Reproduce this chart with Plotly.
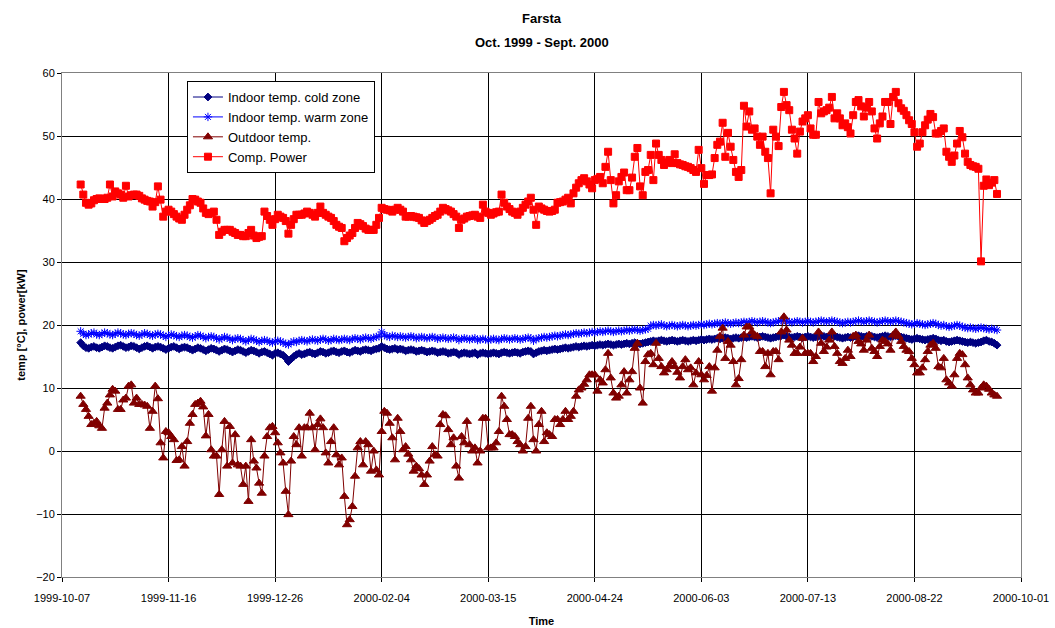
import pandas as pd
import plotly.graph_objects as go

# ---------------- data (daily, first day 1999-10-14) ----------------
start_date = "1999-10-14"

power = [
    42.3, 40.7, 39.4, 39.1, 39.3, 39.8, 40.0, 40.1, 40.0, 40.0,
    40.2, 42.3, 40.4, 41.2, 40.9, 40.7, 40.2, 42.1, 40.4, 40.6,
    40.7, 40.7, 40.5, 40.1, 39.9, 39.7, 39.6, 38.8, 39.5, 42.0,
    39.9, 37.2, 38.0, 38.3, 38.0, 37.6, 37.2, 36.9, 36.7, 37.5,
    38.3, 39.0, 40.0, 39.9, 39.6, 39.4, 38.5, 37.8, 37.6, 37.8,
    38.0, 36.7, 34.3, 34.8, 35.1, 35.1, 35.1, 34.8, 34.6, 34.3,
    34.3, 34.1, 34.1, 34.6, 35.1, 34.2, 33.8, 34.0, 34.1, 38.0,
    37.3, 36.7, 35.9, 36.8, 37.5, 37.2, 37.0, 36.5, 34.5, 35.9,
    36.8, 37.5, 37.5, 37.5, 37.7, 38.0, 37.8, 37.5, 37.2, 37.8,
    38.8, 37.8, 37.5, 37.2, 37.0, 36.5, 35.9, 35.6, 35.4, 33.3,
    33.8, 34.2, 34.6, 35.4, 36.2, 36.0, 35.7, 35.3, 35.1, 35.1,
    35.1, 35.9, 37.0, 38.6, 38.4, 38.3, 38.2, 38.0, 38.3, 38.6,
    38.3, 38.0, 37.2, 37.2, 37.3, 37.2, 37.1, 37.0, 36.6, 36.2,
    36.5, 36.7, 37.0, 37.3, 37.5, 38.0, 38.6, 38.4, 38.2, 38.0,
    37.6, 37.2, 35.4, 36.7, 36.9, 37.2, 37.3, 37.4, 37.5, 37.2,
    37.0, 39.1, 38.0, 37.8, 37.5, 37.7, 37.9, 38.0, 40.7, 39.4,
    38.8, 38.4, 38.0, 37.8, 37.5, 38.0, 38.6, 39.1, 39.6, 40.2,
    38.3, 35.9, 38.8, 38.5, 38.3, 38.1, 38.0, 38.1, 38.3, 39.4,
    39.5, 39.6, 39.9, 40.2, 39.3, 40.9, 41.8, 42.5, 43.0, 43.3,
    42.8, 42.3, 41.7, 43.0, 43.2, 43.5, 42.5, 45.1, 47.5, 43.0,
    39.3, 40.6, 42.8, 43.5, 44.2, 41.4, 41.4, 43.4, 46.7, 48.1,
    42.0, 40.6, 44.3, 44.6, 47.0, 43.0, 48.8, 47.0, 46.2, 45.4,
    45.8, 46.2, 45.7, 47.1, 45.7, 45.5, 45.4, 45.2, 45.1, 44.9,
    44.6, 44.3, 47.8, 44.9, 42.4, 43.8, 43.8, 43.9, 46.5, 48.6,
    49.1, 52.1, 46.7, 50.5, 48.3, 46.2, 44.3, 43.5, 44.6, 54.8,
    51.5, 53.9, 51.0, 51.2, 49.9, 48.6, 49.9, 47.5, 46.5, 40.9,
    51.0, 49.9, 48.4, 54.6, 57.0, 54.9, 54.1, 51.0, 49.6, 47.2,
    50.7, 52.3, 52.8, 53.3, 51.2, 50.2, 50.2, 55.4, 53.6, 53.9,
    54.1, 54.5, 56.2, 52.8, 53.6, 52.8, 51.7, 52.0, 51.4, 50.4,
    53.3, 55.4, 55.7, 54.7, 53.1, 54.5, 55.4, 53.9, 51.2, 49.6,
    52.0, 53.1, 55.4, 55.4, 51.9, 56.2, 57.0, 55.2, 54.4, 54.0,
    53.3, 52.5, 51.9, 50.6, 48.3, 48.8, 50.6, 51.7, 52.6, 53.5,
    53.0, 50.4, 50.4, 50.8, 51.2, 47.5, 46.7, 45.9, 46.9, 48.8,
    50.8, 49.8, 47.2, 45.9, 45.4, 45.2, 45.1, 44.8, 30.1, 42.1,
    43.1, 42.2, 42.6, 43.0, 40.8,
]

outdoor = [
    8.7, 7.4, 6.6, 5.5, 4.2, 4.4, 4.7, 4.0, 3.6, 6.8,
    7.6, 8.9, 9.8, 9.5, 6.6, 6.6, 8.1, 8.4, 10.3, 10.5,
    7.6, 8.4, 7.4, 7.4, 7.3, 7.1, 3.6, 6.3, 10.3, 8.3,
    1.3, -1.1, 3.1, 2.9, 2.3, 1.8, -1.5, -1.4, 0.7, -2.4,
    1.5, 4.4, 5.8, 7.4, 7.6, 7.9, 7.0, 2.4, 5.8, 0.2,
    -0.8, -0.8, -6.9, 0.2, 4.7, -2.4, 3.9, -1.9, 2.6, -2.2,
    -2.4, -5.3, -2.4, -8.0, 1.8, -1.6, -2.7, -5.1, -6.7, -0.8,
    2.3, 3.7, 3.9, 2.9, 1.3, -0.3, -1.9, -6.4, -10.1, -1.6,
    2.3, 1.0, 3.7, -0.8, 3.7, 3.7, 6.0, 3.7, 0.2, 4.2,
    5.1, 3.7, -0.3, -1.9, 1.5, 3.7, -0.6, -2.2, -1.1, -7.2,
    -11.7, -10.9, -8.8, -4.0, 0.5, 1.5, -2.2, 1.5, 1.0, -3.2,
    0.0, -3.0, -3.8, 3.1, 6.3, 6.0, 4.4, 2.1, -1.4, 5.2,
    3.1, 0.2, 0.7, -0.5, -1.4, -3.2, -2.4, -2.8, -3.8, -5.3,
    -3.8, -1.6, 0.7, -0.6, -0.8, 4.2, 5.8, 5.6, 3.4, 1.0,
    2.1, -2.4, -4.3, 2.3, 1.3, 4.7, 1.0, 0.0, 0.5, -1.9,
    0.0, 5.2, 5.2, 0.5, 0.5, 0.5, 1.3, 3.1, 8.7, 7.1,
    5.0, 2.6, 2.6, 2.3, 1.5, 1.0, 0.0, 0.7, 5.2, 7.1,
    1.8, 0.0, 4.2, 6.3, 1.5, 2.9, 2.6, 2.3, 5.0, 5.0,
    4.2, 5.0, 6.3, 5.0, 5.5, 6.3, 8.7, 9.7, 10.0, 10.6,
    11.3, 12.1, 12.1, 12.1, 9.5, 11.3, 10.8, 12.9, 15.5, 11.6,
    9.2, 8.4, 8.7, 10.5, 12.6, 9.2, 11.3, 12.6, 16.3, 17.1,
    10.0, 7.6, 14.2, 15.3, 15.5, 13.7, 17.1, 14.7, 13.4, 12.4,
    12.9, 13.5, 14.2, 13.4, 12.5, 11.6, 13.4, 14.5, 12.9, 13.2,
    10.5, 12.4, 14.2, 12.1, 11.3, 12.0, 13.4, 9.5, 13.2, 16.0,
    18.2, 19.5, 14.7, 17.4, 16.8, 14.2, 10.5, 11.5, 14.5, 18.4,
    19.7, 19.7, 18.9, 18.4, 18.2, 15.8, 15.8, 13.4, 15.5, 12.1,
    15.8, 15.8, 14.5, 18.9, 21.3, 19.2, 17.6, 16.8, 15.5, 15.5,
    16.5, 17.9, 15.5, 15.5, 15.5, 14.2, 15.0, 18.9, 17.1, 15.8,
    16.5, 17.6, 18.9, 16.6, 15.5, 14.2, 13.9, 14.7, 16.0, 15.0,
    18.2, 18.4, 17.4, 17.0, 16.0, 17.6, 18.4, 16.3, 15.8, 15.0,
    16.6, 17.6, 17.4, 17.0, 16.0, 18.4, 18.9, 18.2, 17.4, 16.6,
    16.0, 15.8, 14.7, 13.7, 12.4, 12.4, 13.2, 14.5, 15.8, 16.8,
    17.1, 16.3, 13.4, 13.2, 14.7, 11.3, 10.8, 10.3, 12.1, 14.7,
    15.5, 15.3, 13.7, 11.6, 10.5, 9.7, 9.2, 9.2, 10.0, 10.5,
    10.3, 9.8, 9.2, 8.9, 8.7,
]

warm = [
    19.0, 18.6, 18.4, 18.5, 18.7, 18.8, 18.5, 18.4, 18.6, 18.8,
    18.7, 18.5, 18.4, 18.6, 18.8, 18.7, 18.5, 18.4, 18.6, 18.7,
    18.6, 18.4, 18.3, 18.5, 18.7, 18.6, 18.4, 18.3, 18.5, 18.6,
    18.5, 18.3, 18.1, 18.3, 18.5, 18.4, 18.2, 18.1, 18.3, 18.4,
    18.3, 18.1, 18.0, 18.2, 18.4, 18.3, 18.1, 17.9, 18.1, 18.2,
    18.1, 17.9, 17.7, 17.9, 18.1, 18.0, 17.8, 17.6, 17.8, 17.9,
    17.8, 17.6, 17.4, 17.6, 17.8, 17.7, 17.5, 17.3, 17.5, 17.6,
    17.5, 17.3, 17.2, 17.4, 17.5, 17.4, 17.2, 17.0, 16.9, 17.2,
    17.4, 17.3, 17.5, 17.6, 17.5, 17.4, 17.6, 17.7, 17.6, 17.5,
    17.7, 17.8, 17.7, 17.5, 17.6, 17.8, 17.7, 17.6, 17.7, 17.8,
    17.7, 17.6, 17.8, 17.9, 17.8, 17.7, 17.9, 18.0, 17.9, 17.8,
    18.0, 18.1, 18.2, 18.9, 18.4, 18.2, 18.1, 18.3, 18.2, 18.1,
    18.2, 18.1, 18.0, 18.1, 18.2, 18.1, 17.9, 18.0, 18.1, 18.0,
    17.9, 18.0, 18.1, 18.0, 17.8, 17.9, 18.0, 17.9, 17.8, 17.9,
    18.0, 17.9, 17.6, 17.8, 17.9, 17.8, 17.7, 17.8, 17.9, 17.6,
    17.7, 17.8, 17.7, 17.6, 17.7, 17.8, 17.7, 17.6, 17.8, 17.9,
    17.8, 17.7, 17.8, 17.9, 17.8, 17.7, 17.8, 17.9, 18.0, 17.9,
    17.5, 17.8, 17.9, 18.0, 18.1, 18.0, 18.1, 18.2, 18.3, 18.2,
    18.3, 18.4, 18.5, 18.4, 18.5, 18.6, 18.7, 18.6, 18.7, 18.8,
    18.7, 18.8, 18.9, 18.8, 18.9, 19.0, 18.9, 19.0, 19.1, 19.0,
    18.9, 19.0, 19.1, 19.0, 19.1, 19.2, 19.1, 19.2, 19.3, 19.2,
    19.1, 19.2, 19.3, 19.4, 19.9, 20.0, 19.9, 20.0, 20.1, 19.9,
    19.8, 19.9, 20.0, 19.9, 19.8, 19.9, 20.0, 19.9, 19.8, 19.9,
    20.0, 19.9, 20.0, 20.1, 20.0, 20.1, 20.2, 20.1, 20.2, 20.3,
    20.2, 20.3, 20.4, 20.3, 20.2, 20.3, 20.4, 20.3, 20.4, 20.5,
    20.4, 20.5, 20.6, 20.5, 20.4, 20.5, 20.6, 20.5, 20.4, 20.3,
    20.4, 20.5, 20.6, 20.7, 20.8, 20.6, 20.5, 20.4, 20.5, 20.6,
    20.5, 20.4, 20.5, 20.6, 20.5, 20.4, 20.5, 20.6, 20.7, 20.6,
    20.5, 20.6, 20.7, 20.6, 20.5, 20.4, 20.3, 20.4, 20.5, 20.4,
    20.5, 20.6, 20.7, 20.6, 20.5, 20.6, 20.7, 20.6, 20.5, 20.4,
    20.5, 20.6, 20.7, 20.6, 20.5, 20.6, 20.7, 20.6, 20.5, 20.4,
    20.3, 20.2, 20.1, 20.2, 20.3, 20.2, 20.1, 20.0, 20.1, 20.2,
    20.3, 20.2, 20.0, 19.9, 20.0, 19.8, 19.7, 19.8, 19.9, 20.0,
    19.9, 19.7, 19.6, 19.5, 19.6, 19.5, 19.4, 19.5, 19.6, 19.5,
    19.4, 19.3, 19.4, 19.3, 19.2,
]

cold = [
    17.2, 16.7, 16.4, 16.3, 16.5, 16.6, 16.4, 16.3, 16.5, 16.7,
    16.6, 16.4, 16.3, 16.5, 16.7, 16.8, 16.6, 16.4, 16.5, 16.7,
    16.6, 16.4, 16.2, 16.4, 16.6, 16.7, 16.5, 16.3, 16.5, 16.6,
    16.5, 16.3, 16.1, 16.3, 16.5, 16.6, 16.4, 16.2, 16.4, 16.5,
    16.4, 16.2, 16.0, 16.2, 16.4, 16.3, 16.1, 15.9, 16.1, 16.3,
    16.2, 16.0, 15.8, 16.0, 16.2, 16.1, 15.9, 15.7, 15.9, 16.1,
    16.0, 15.8, 15.6, 15.8, 16.0, 15.9, 15.7, 15.5, 15.7, 15.8,
    15.6, 15.4, 15.2, 15.5, 15.6, 15.4, 15.2, 14.8, 14.2, 14.6,
    15.0, 15.3, 15.5, 15.3, 15.4, 15.6, 15.7, 15.5, 15.4, 15.6,
    15.8, 15.7, 15.5, 15.6, 15.8, 15.9, 15.7, 15.6, 15.8, 15.9,
    15.7, 15.6, 15.8, 16.0, 15.9, 15.8, 16.0, 16.1, 16.0, 15.9,
    16.1, 16.2, 16.3, 16.6, 16.4, 16.2, 16.1, 16.2, 16.3, 16.1,
    16.2, 16.1, 15.9, 16.0, 16.1, 16.0, 15.8, 15.9, 16.0, 15.9,
    15.7, 15.8, 15.9, 15.8, 15.6, 15.7, 15.8, 15.7, 15.5, 15.6,
    15.7, 15.6, 15.3, 15.5, 15.6, 15.5, 15.4, 15.5, 15.6, 15.3,
    15.5, 15.6, 15.5, 15.4, 15.5, 15.6, 15.5, 15.4, 15.6, 15.7,
    15.6, 15.5, 15.6, 15.7, 15.6, 15.5, 15.7, 15.8, 15.9, 15.8,
    15.4, 15.6, 15.8, 15.9, 16.0, 15.9, 16.0, 16.1, 16.2, 16.1,
    16.2, 16.3, 16.4, 16.3, 16.4, 16.5, 16.6, 16.5, 16.6, 16.7,
    16.6, 16.7, 16.8, 16.7, 16.8, 16.9, 16.8, 16.9, 17.0, 16.9,
    16.8, 16.9, 17.0, 16.9, 17.0, 17.1, 17.0, 17.1, 17.2, 17.1,
    17.0, 17.1, 17.2, 17.3, 17.4, 17.5, 17.4, 17.5, 17.6, 17.5,
    17.4, 17.5, 17.6, 17.5, 17.4, 17.5, 17.6, 17.5, 17.4, 17.5,
    17.6, 17.5, 17.6, 17.7, 17.6, 17.7, 17.8, 17.7, 17.8, 17.9,
    17.8, 17.9, 18.0, 17.9, 17.8, 17.9, 18.0, 17.9, 18.0, 18.1,
    18.0, 18.1, 18.2, 18.1, 18.0, 18.1, 18.2, 18.1, 18.0, 17.9,
    18.0, 18.1, 18.2, 18.3, 18.4, 18.2, 18.1, 18.0, 18.1, 18.2,
    18.1, 18.0, 18.1, 18.2, 18.1, 18.0, 18.1, 18.2, 18.3, 18.2,
    18.1, 18.2, 18.3, 18.2, 18.1, 18.0, 17.9, 18.0, 18.1, 18.0,
    18.1, 18.2, 18.3, 18.2, 18.1, 18.2, 18.3, 18.2, 18.1, 18.0,
    18.1, 18.2, 18.3, 18.2, 18.1, 18.2, 18.3, 18.2, 18.1, 18.0,
    17.9, 17.8, 17.7, 17.8, 17.9, 17.8, 17.7, 17.6, 17.7, 17.8,
    17.9, 17.8, 17.6, 17.5, 17.6, 17.4, 17.3, 17.4, 17.5, 17.6,
    17.5, 17.4, 17.3, 17.2, 17.3, 17.2, 17.1, 17.2, 17.3, 17.5,
    17.6, 17.4, 17.3, 17.1, 16.8,
]

tick_dates = ["1999-10-07", "1999-11-16", "1999-12-26", "2000-02-04", "2000-03-15",
              "2000-04-24", "2000-06-03", "2000-07-13", "2000-08-22", "2000-10-01"]

title_lines = ["Farsta", "Oct. 1999 - Sept. 2000"]

series = [
    ("Indoor temp. cold zone", cold, "#000080", "diamond", 6),
    ("Indoor temp. warm zone", warm, "#0000FF", "asterisk-open", 7),
    ("Outdoor temp.", outdoor, "#800000", "triangle-up", 8),
    ("Comp. Power", power, "#FF0000", "square", 7),
]

FONT = "Arial, 'Liberation Sans', sans-serif"

fig = go.Figure()
for name, vals, color, sym, size in series:
    dates = pd.date_range(start_date, periods=len(vals), freq="D")
    fig.add_trace(go.Scatter(
        x=dates, y=vals, name=name, mode="lines+markers",
        line=dict(color=color, width=1),
        marker=dict(symbol=sym, size=size, color=color,
                    line=dict(color=color, width=1)),
    ))

fig.update_layout(
    width=1055, height=628,
    paper_bgcolor="white", plot_bgcolor="white",
    margin=dict(l=62, r=34, t=73, b=51),
    font=dict(family=FONT, size=11, color="black"),
    showlegend=True,
    hovermode=False,
    legend=dict(x=0.1303, y=0.984, xanchor="left", yanchor="top",
                bgcolor="white", bordercolor="black", borderwidth=1,
                font=dict(family=FONT, size=13, color="black"),
                tracegroupgap=0),
    annotations=[
        dict(text="<b>%s</b>" % title_lines[0], x=0.5, y=1.109, xref="paper", yref="paper",
             xanchor="center", yanchor="middle", showarrow=False,
             font=dict(family=FONT, size=13, color="black")),
        dict(text="<b>%s</b>" % title_lines[1], x=0.5, y=1.0615, xref="paper", yref="paper",
             xanchor="center", yanchor="middle", showarrow=False,
             font=dict(family=FONT, size=13, color="black")),
    ],
)

fig.update_xaxes(
    type="date",
    range=["1999-10-07", "2000-10-01"],
    tickmode="array",
    tickvals=tick_dates,
    ticktext=tick_dates,
    showgrid=True, gridcolor="black", gridwidth=1,
    showline=True, linecolor="#808080", linewidth=1, mirror=True,
    ticks="outside", ticklen=4, tickcolor="black",
    ticklabelstandoff=7,
    tickfont=dict(family=FONT, size=11),
    title=dict(text="<b>Time</b>", font=dict(family=FONT, size=11), standoff=14),
    automargin=False,
    zeroline=False,
)
fig.update_yaxes(
    range=[-20, 60], dtick=10, tick0=0,
    showgrid=True, gridcolor="black", gridwidth=1,
    showline=True, linecolor="#808080", linewidth=1, mirror=True,
    ticks="outside", ticklen=4, tickcolor="black",
    tickfont=dict(family=FONT, size=11),
    title=dict(text="<b>temp [°C], power[kW]</b>", font=dict(family=FONT, size=11), standoff=8),
    automargin=False,
    zeroline=False,
)

fig.write_html(
    "out.html",
    config={"displayModeBar": False, "staticPlot": True},
    post_script="document.body.style.margin='0';document.body.style.padding='0';"
                "document.body.style.overflow='hidden';",
)
